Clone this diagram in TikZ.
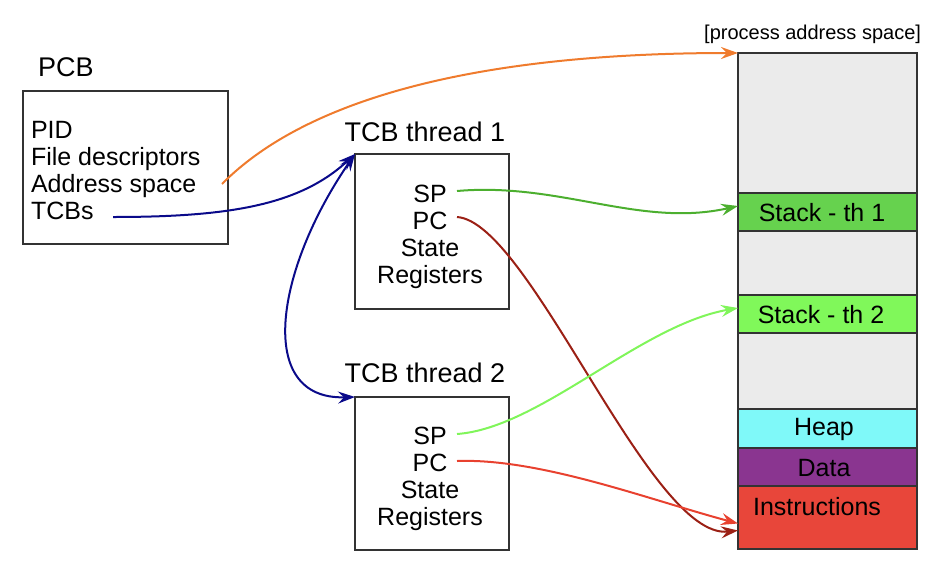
\documentclass[tikz,border=0pt]{standalone}
\usepackage{fontspec}
\setmainfont{Liberation Sans}
\usetikzlibrary{arrows.meta}
\definecolor{cOrange}{HTML}{EF7B2D}
\definecolor{cNavy}{HTML}{0A0A8A}
\definecolor{cGreenA}{HTML}{4CAF2F}
\definecolor{cDarkRed}{HTML}{9B2015}
\definecolor{cGreenB}{HTML}{80F55A}
\definecolor{cRed}{HTML}{E8412F}
\definecolor{cGray}{HTML}{EBEBEB}
\definecolor{cStackA}{HTML}{66D24E}
\definecolor{cStackB}{HTML}{80F85A}
\definecolor{cHeap}{HTML}{7FF9F9}
\definecolor{cData}{HTML}{8A3590}
\definecolor{cInstr}{HTML}{E8463A}
\definecolor{cBorder}{HTML}{333333}
\begin{document}
\begin{tikzpicture}[x=1pt,y=-1pt,
  txt/.style={inner sep=0pt, outer sep=0pt, font=\fontsize{25}{27}\selectfont},
  title/.style={inner sep=0pt, outer sep=0pt, font=\fontsize{27}{29}\selectfont},
  small/.style={inner sep=0pt, outer sep=0pt, font=\fontsize{20}{22}\selectfont},
  frame/.style={draw=cBorder, line width=2pt, anchor=north west, inner sep=0pt, outer sep=0pt},
  seg/.style={draw=cBorder, line width=2pt, anchor=north west, inner sep=0pt, outer sep=0pt, minimum width=179pt},
  tip/.style={Stealth[length=17pt,width=12pt,inset=6pt]},
  conn/.style={line width=2pt, -{Stealth[length=17pt,width=12pt,inset=6pt]}},
  biconn/.style={line width=2pt, {Stealth[length=17pt,width=12pt,inset=6pt]}-{Stealth[length=17pt,width=12pt,inset=6pt]}}
]
\useasboundingbox (0,0) rectangle (952,568);

% PCB
\node[title, anchor=base west] (pcblabel) at (38,76) {PCB};
\node[frame, minimum width=205pt, minimum height=153pt] (pcb) at (23,91) {};
\node[txt, anchor=base west] (pid) at (31,138) {PID};
\node[txt, anchor=base west] (fd) at (31,165) {File descriptors};
\node[txt, anchor=base west] (as) at (31,192) {Address space};
\node[txt, anchor=base west] (tcbs) at (31,219) {TCBs};

% TCB thread 1
\node[title, anchor=base] (t1label) at (425,141) {TCB thread 1};
\node[frame, minimum width=154pt, minimum height=155pt] (t1) at (355,154) {};
\node[txt, anchor=base] (sp1) at (430,202) {SP};
\node[txt, anchor=base] (pc1) at (430,229) {PC};
\node[txt, anchor=base] (st1) at (430,256) {State};
\node[txt, anchor=base] (rg1) at (430,283) {Registers};

% TCB thread 2
\node[title, anchor=base] (t2label) at (425,382) {TCB thread 2};
\node[frame, minimum width=154pt, minimum height=153pt] (t2) at (355,397) {};
\node[txt, anchor=base] (sp2) at (430,444) {SP};
\node[txt, anchor=base] (pc2) at (430,471) {PC};
\node[txt, anchor=base] (st2) at (430,498) {State};
\node[txt, anchor=base] (rg2) at (430,525) {Registers};

% process address space
\node[small, anchor=base east] (paslabel) at (921,39) {[process address space]};
\node[seg, fill=cGray, minimum height=496pt] (col) at (738,53) {};
\node[seg, fill=cStackA, minimum height=38pt] (stA) at (738,193) {};
\node[txt] at (822,213) {Stack - th 1};
\node[seg, fill=cStackB, minimum height=38pt] (stB) at (738,295) {};
\node[txt] at (821,315) {Stack - th 2};
\node[seg, fill=cHeap, minimum height=39pt] (heap) at (738,409) {};
\node[txt] at (824,429) {Heap};
\node[seg, fill=cData, minimum height=38pt] (data) at (738,448) {};
\node[txt] at (824,468) {Data};
\node[seg, fill=cInstr, minimum height=63pt] (instr) at (738,486) {};
\node[txt, anchor=base] at (817,515) {Instructions};

% connector end points
\coordinate (asEnd) at (222,184);
\coordinate (tcbsEnd) at (113,217);
\coordinate (sp1End) at (457,191);
\coordinate (pc1End) at (457,217);
\coordinate (sp2End) at (457,434);
\coordinate (pc2End) at (457,461);

% connectors
\draw[conn, cOrange] (asEnd) .. controls (300,105) and (460,53) .. (col.north west);
\draw[conn, cNavy] (tcbsEnd) .. controls (230,217) and (300,205) .. (t1.north west);
\draw[biconn, cNavy] (t1.north west) .. controls (275,270) and (255,400) .. (t2.north west);
\draw[conn, cGreenA] (sp1End) .. controls (560,182) and (640,228) .. ([yshift=6pt]stA.west);
\draw[conn, cDarkRed] (pc1End) .. controls (530,222) and (650,540) .. ([yshift=-13pt]instr.west);
\draw[conn, cGreenB] (sp2End) .. controls (540,428) and (640,325) .. ([yshift=6pt]stB.west);
\draw[conn, cRed] (pc2End) .. controls (540,458) and (650,500) .. ([yshift=-6pt]instr.west);
\end{tikzpicture}
\end{document}
